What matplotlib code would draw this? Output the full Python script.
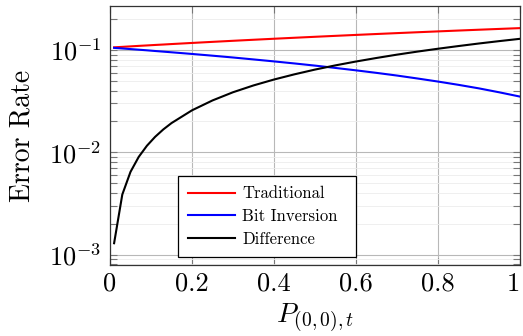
import numpy as np
import matplotlib
matplotlib.use("Agg")
import matplotlib.pyplot as plt
from matplotlib.ticker import LogLocator, FixedLocator, NullFormatter

plt.rcParams['font.family'] = 'serif'
plt.rcParams['font.serif'] = ['cmr10']
plt.rcParams['mathtext.fontset'] = 'cm'
plt.rcParams['axes.formatter.use_mathtext'] = True

# values
p = [0.01, 0.03, 0.05, 0.07, 0.09, 0.11, 0.13, 0.15, 0.2, 0.25, 0.3, 0.35,
     0.4, 0.45, 0.5, 0.55, 0.6, 0.65, 0.7, 0.75, 0.8, 0.85, 0.9, 0.95, 1.0]
traditional = [0.1061, 0.1072, 0.1084, 0.1096, 0.1107, 0.1119, 0.1130,
               0.1142, 0.1171, 0.1200, 0.1229, 0.1258, 0.1287, 0.1316,
               0.1345, 0.1374, 0.1403, 0.1432, 0.1461, 0.1490, 0.1519,
               0.1548, 0.1577, 0.1606, 0.1635]
bit_inversion = [0.1048, 0.1034, 0.1020, 0.1006, 0.0992, 0.0977, 0.0963,
                 0.0949, 0.0914, 0.0879, 0.0844, 0.0808, 0.0773, 0.0738,
                 0.0703, 0.0667, 0.0632, 0.0597, 0.0562, 0.0526, 0.0491,
                 0.0456, 0.0421, 0.0385, 0.0350]
difference = [0.00129, 0.00386, 0.00643, 0.00900, 0.01157, 0.01414, 0.01671,
              0.01928, 0.0257, 0.0321, 0.0386, 0.0450, 0.0514, 0.0578,
              0.0643, 0.0707, 0.0771, 0.0835, 0.0900, 0.0964, 0.1028,
              0.1092, 0.1157, 0.1221, 0.1285]
xticks = [0, 0.2, 0.4, 0.6, 0.8, 1]
xtick_labels = ['0', '0.2', '0.4', '0.6', '0.8', '1']

fig = plt.figure(figsize=(5.23, 3.36), dpi=100)
ax = fig.add_axes([110 / 523, 71 / 336, 410 / 523, 259 / 336])

ax.plot(p, traditional, color='#ff0000', lw=1.5, label='Traditional')
ax.plot(p, bit_inversion, color='#0000ff', lw=1.5, label='Bit Inversion')
ax.plot(p, difference, color='black', lw=1.5, label='Difference')

ax.set_yscale('log')
ax.set_xlim(0, 1)
ax.set_ylim(7.9e-4, 0.269)
ax.set_xticks(xticks)
ax.set_xticklabels(xtick_labels)
# last label sits at the figure edge, keep it inside
ax.get_xticklabels()[-1].set_horizontalalignment('right')
ax.yaxis.set_major_locator(FixedLocator([1e-3, 1e-2, 1e-1]))
ax.yaxis.set_minor_locator(LogLocator(base=10, subs=np.arange(2, 10), numticks=20))
ax.yaxis.set_minor_formatter(NullFormatter())

ax.grid(True, which='major', color='#b8b8b8', lw=0.8)
ax.grid(True, which='minor', axis='y', color='#ececec', lw=0.6)
ax.set_axisbelow(True)
ax.tick_params(which='both', direction='in', top=True, right=True,
               labelsize=19, color='#777777', length=5, width=0.8)
ax.tick_params(axis='x', pad=5)
ax.tick_params(axis='y', pad=6)
for s in ax.spines.values():
    s.set_linewidth(0.9)
    s.set_color('#333333')

ax.set_xlabel(r'$P_{(0,0),t}$', fontsize=20, labelpad=4)
ax.set_ylabel('Error Rate', fontsize=20, labelpad=10)

leg = ax.legend(loc='lower left', bbox_to_anchor=(0.166, 0.031, 0.434, 0.316),
                mode='expand', fontsize=12, fancybox=False, framealpha=1,
                edgecolor='black', handlelength=2.8, borderaxespad=0,
                borderpad=0.6, labelspacing=0.45, handletextpad=0.45)
leg.get_frame().set_linewidth(0.9)

fig.savefig('out.png', dpi=100)
